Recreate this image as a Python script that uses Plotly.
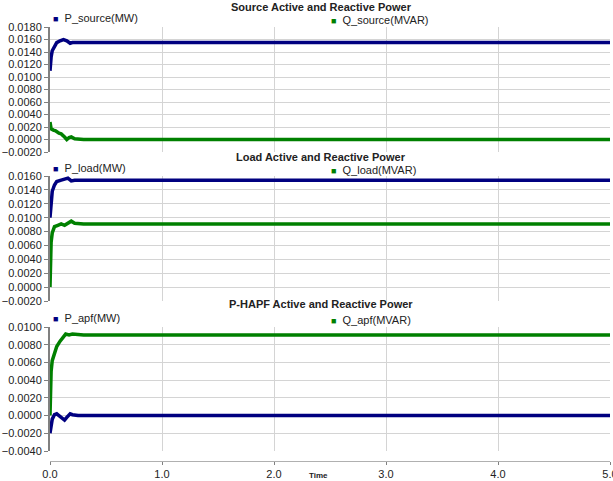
import plotly.graph_objects as go

# ---- data (time in s, power in MW / MVAR) ----
t_p_source = [0.0, 0.005, 0.01, 0.02, 0.04, 0.06, 0.09, 0.12, 0.15, 0.18, 0.2, 0.25, 1.0, 2.0, 3.0, 4.0, 5.0]
p_source = [0.0110, 0.0125, 0.0132, 0.0142, 0.0150, 0.0155, 0.0158, 0.0160, 0.0158, 0.0154, 0.0155, 0.0155, 0.0155, 0.0155, 0.0155, 0.0155, 0.0155]
t_q_source = [0.0, 0.005, 0.01, 0.03, 0.05, 0.08, 0.1, 0.13, 0.15, 0.17, 0.19, 0.22, 0.3, 1.0, 2.0, 3.0, 4.0, 5.0]
q_source = [0.0028, 0.0020, 0.0017, 0.0015, 0.0014, 0.0010, 0.0009, 0.0004, 0.0000, 0.0003, 0.0004, 0.0001, 0.0000, 0.0000, 0.0000, 0.0000, 0.0000, 0.0000]

t_p_load = [0.0, 0.005, 0.01, 0.02, 0.04, 0.06, 0.1, 0.13, 0.16, 0.19, 0.22, 0.3, 1.0, 2.0, 3.0, 4.0, 5.0]
p_load = [0.0100, 0.0112, 0.0125, 0.0138, 0.0147, 0.0152, 0.0154, 0.0155, 0.0157, 0.0153, 0.0154, 0.0154, 0.0154, 0.0154, 0.0154, 0.0154, 0.0154]
t_q_load = [0.0, 0.003, 0.006, 0.01, 0.02, 0.04, 0.07, 0.1, 0.13, 0.16, 0.19, 0.22, 0.3, 1.0, 2.0, 3.0, 4.0, 5.0]
q_load = [0.0000, 0.0040, 0.0055, 0.0065, 0.0078, 0.0087, 0.0089, 0.0091, 0.0089, 0.0092, 0.0095, 0.0092, 0.0091, 0.0091, 0.0091, 0.0091, 0.0091, 0.0091]

t_p_apf = [0.0, 0.01, 0.02, 0.04, 0.06, 0.08, 0.1, 0.13, 0.15, 0.18, 0.2, 0.25, 1.0, 2.0, 3.0, 4.0, 5.0]
p_apf = [-0.0020, -0.0010, -0.0004, 0.0001, 0.0002, 0.0000, -0.0002, -0.0005, -0.0002, 0.0002, 0.0001, 0.0000, 0.0000, 0.0000, 0.0000, 0.0000, 0.0000]
t_q_apf = [0.0, 0.005, 0.01, 0.02, 0.04, 0.06, 0.09, 0.12, 0.14, 0.17, 0.2, 0.3, 1.0, 2.0, 3.0, 4.0, 5.0]
q_apf = [0.0000, 0.0035, 0.0050, 0.0062, 0.0072, 0.0078, 0.0084, 0.0088, 0.0092, 0.0091, 0.0092, 0.0091, 0.0091, 0.0091, 0.0091, 0.0091, 0.0091]

panel_titles = ["Source Active and Reactive Power", "Load Active and Reactive Power", "P-HAPF Active and Reactive Power"]
p_names = ["P_source(MW)", "P_load(MW)", "P_apf(MW)"]
q_names = ["Q_source(MVAR)", "Q_load(MVAR)", "Q_apf(MVAR)"]
y_ranges = [[-0.0020, 0.0180], [-0.0020, 0.0160], [-0.0040, 0.0100]]
x_ticks = [0.0, 1.0, 2.0, 3.0, 4.0, 5.0]

BLUE = "#000080"
GREEN = "#008000"
W, H = 613, 481

def py(px):
    return 1 - px / H

domains = [[py(152), py(27)], [py(301), py(176)], [py(451), py(327)]]
title_px = [7, 157, 304]
legend_px = [18, 168, 318]

series = [
    (t_p_source, p_source, t_q_source, q_source),
    (t_p_load, p_load, t_q_load, q_load),
    (t_p_apf, p_apf, t_q_apf, q_apf),
]

fig = go.Figure()
for i, (tp, vp, tq, vq) in enumerate(series):
    xa = "x" if i == 0 else f"x{i+1}"
    ya = "y" if i == 0 else f"y{i+1}"
    fig.add_trace(go.Scatter(x=tq, y=vq, name=q_names[i], mode="lines",
                             line=dict(color=GREEN, width=3.5), xaxis=xa, yaxis=ya, showlegend=False))
    fig.add_trace(go.Scatter(x=tp, y=vp, name=p_names[i], mode="lines",
                             line=dict(color=BLUE, width=3.5), xaxis=xa, yaxis=ya, showlegend=False))

# dummy trace to carry the shared bottom time axis
fig.add_trace(go.Scatter(x=[None], y=[None], xaxis="x4", yaxis="y3", showlegend=False, hoverinfo="skip"))

tick_font = dict(family="Liberation Sans, Arial, sans-serif", size=11, color="#222222")
layout = dict(
    width=W, height=H,
    margin=dict(l=0, r=0, t=0, b=0),
    paper_bgcolor="white", plot_bgcolor="white",
    showlegend=False,
)
x_dom = [50 / W, 610 / W]
for i in range(3):
    xk = "xaxis" if i == 0 else f"xaxis{i+1}"
    yk = "yaxis" if i == 0 else f"yaxis{i+1}"
    yid = "y" if i == 0 else f"y{i+1}"
    xid = "x" if i == 0 else f"x{i+1}"
    layout[xk] = dict(domain=x_dom, anchor=yid, range=[0, 5], tickvals=x_ticks,
                      showticklabels=False, ticks="", showgrid=True, gridcolor="#d4d4d4",
                      gridwidth=1, zeroline=False, showline=False, automargin=False)
    r = y_ranges[i]
    layout[yk] = dict(domain=domains[i], anchor=xid, range=r, dtick=0.002, tick0=0,
                      tickformat=".4f", tickfont=tick_font, showgrid=True, gridcolor="#d4d4d4",
                      gridwidth=1, zeroline=False, showline=True, linecolor="#808080", linewidth=2,
                      ticks="outside", ticklen=4, tickcolor="#808080", automargin=False)

layout["xaxis4"] = dict(overlaying="x3", anchor="free", position=py(461), domain=x_dom,
                        range=[0, 5], tickvals=x_ticks, tickformat=".1f", tickfont=tick_font,
                        showgrid=False, zeroline=False, showline=True, linecolor="#b0b0b0",
                        linewidth=1, ticks="outside", ticklen=3, tickcolor="#808080",
                        automargin=False, ticklabeloverflow="allow")

legend_font = dict(family="Liberation Sans, Arial, sans-serif", size=11, color="#222222")
annotations = []
for i in range(3):
    annotations.append(dict(text=f"<b>{panel_titles[i]}</b>", x=321 / W, y=py(title_px[i]),
                            xref="paper", yref="paper", xanchor="center", yanchor="middle",
                            showarrow=False,
                            font=dict(family="Liberation Sans Narrow, Arial Narrow, sans-serif", size=11, color="#222222")))
    annotations.append(dict(text=f"<span style='color:{BLUE};font-size:9px'>■</span>  {p_names[i]}",
                            x=51 / W, y=py(legend_px[i]), xref="paper", yref="paper",
                            xanchor="left", yanchor="middle", showarrow=False, font=legend_font))
    annotations.append(dict(text=f"<span style='color:{GREEN};font-size:9px'>■</span>  {q_names[i]}",
                            x=329 / W, y=py(legend_px[i] + 2), xref="paper", yref="paper",
                            xanchor="left", yanchor="middle", showarrow=False, font=legend_font))
annotations.append(dict(text="<b>Time</b>", x=318 / W, y=py(475), xref="paper", yref="paper",
                        xanchor="center", yanchor="middle", showarrow=False,
                        font=dict(family="Liberation Sans Narrow, Arial Narrow, sans-serif", size=8, color="#222222")))
layout["annotations"] = annotations

fig.update_layout(**layout)
fig.write_html("out.html")
